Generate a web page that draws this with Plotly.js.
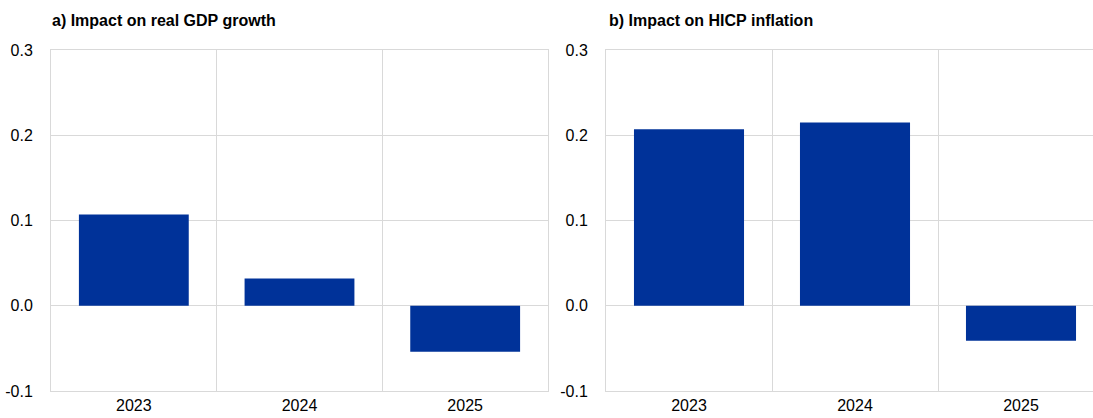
<!DOCTYPE html>
<html>
<head>
<meta charset="utf-8">
<script src="https://cdn.plot.ly/plotly-3.0.1.min.js"></script>
<style>html,body{margin:0;padding:0;overflow:hidden;background:#fff;}</style>
</head>
<body>
<div id="chart" style="width:1093px;height:418px;"></div>
<script>
const years = ["2023", "2024", "2025"];
const gdpImpact = [0.107, 0.032, -0.054];
const hicpImpact = [0.207, 0.215, -0.041];
const titleA = "a) Impact on real GDP growth";
const titleB = "b) Impact on HICP inflation";
const yTicks = [-0.1, 0.0, 0.1, 0.2, 0.3];

const W = 1093, H = 418, T = 50, B = 27;
const plotH = H - T - B;
const blue = "#003299";
const grid = "#d9d9d9";
const font = "Liberation Sans, Arial, sans-serif";

const traces = [
  {type: "bar", x: years, y: gdpImpact, xaxis: "x", yaxis: "y",
   marker: {color: blue, line: {width: 0}}, hoverinfo: "x+y"},
  {type: "bar", x: years, y: hicpImpact, xaxis: "x2", yaxis: "y2",
   marker: {color: blue, line: {width: 0}}, hoverinfo: "x+y"}
];

function xax(domain, range) {
  return {
    domain: domain, type: "category", range: range,
    tickson: "boundaries", showgrid: true, gridcolor: grid, gridwidth: 1,
    ticks: "", showline: true, mirror: true, linecolor: grid, linewidth: 1,
    zeroline: false,
    tickfont: {family: font, size: 16, color: "#000"}, fixedrange: true
  };
}
function yax(anchor, mirror) {
  return {
    anchor: anchor, range: [-0.1, 0.3], tickvals: yTicks,
    ticktext: yTicks.map(v => v.toFixed(1)),
    showgrid: true, gridcolor: grid, gridwidth: 1,
    zeroline: true, zerolinecolor: grid, zerolinewidth: 1,
    showline: true, mirror: mirror, linecolor: grid, linewidth: 1,
    ticks: "", ticklabelstandoff: 14,
    tickfont: {family: font, size: 16, color: "#000"}, fixedrange: true
  };
}

const layout = {
  width: W, height: H,
  margin: {l: 0, r: 0, t: T, b: B, pad: 0},
  paper_bgcolor: "#fff", plot_bgcolor: "#fff",
  showlegend: false, bargap: 0.337,
  font: {family: font, color: "#000"},
  xaxis: xax([51 / W, 548 / W], [-0.5, 2.5]),
  yaxis: yax("x", true),
  xaxis2: xax([606 / W, 1], [-0.5, (W - 606) / 166 - 0.5]),
  yaxis2: yax("x2", false),
  annotations: [
    {text: "<b>" + titleA + "</b>", xref: "paper", yref: "paper",
     x: 50 / W, y: 1 + (T - 20) / plotH, xanchor: "left", yanchor: "middle",
     showarrow: false, font: {family: font, size: 16, color: "#000"}},
    {text: "<b>" + titleB + "</b>", xref: "paper", yref: "paper",
     x: 607 / W, y: 1 + (T - 20) / plotH, xanchor: "left", yanchor: "middle",
     showarrow: false, font: {family: font, size: 16, color: "#000"}}
  ]
};

Plotly.newPlot("chart", traces, layout, {displayModeBar: false, staticPlot: true});
</script>
</body>
</html>
